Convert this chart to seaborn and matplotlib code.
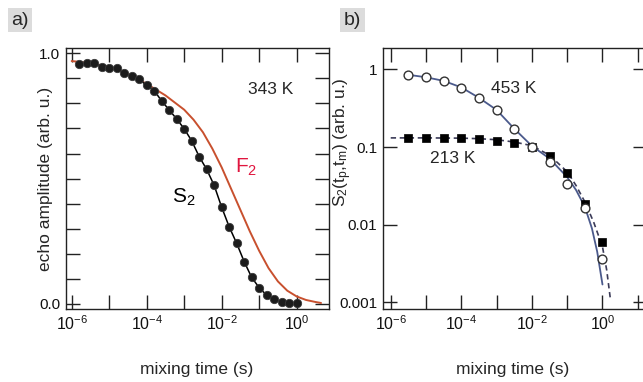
import numpy as np
import pandas as pd
import matplotlib
matplotlib.use("Agg")
import matplotlib.pyplot as plt
from matplotlib.ticker import NullLocator
import seaborn as sns

sns.set_theme(style="ticks")
plt.rcParams["font.family"] = ["Liberation Sans", "DejaVu Sans"]
plt.rcParams["mathtext.fontset"] = "custom"
plt.rcParams["mathtext.rm"] = "Liberation Sans"
plt.rcParams["mathtext.it"] = "Liberation Sans:italic"
plt.rcParams["mathtext.default"] = "regular"
plt.rcParams["axes.unicode_minus"] = False

# ── 資料 (log10 of mixing time) ──
# panel a: S2 at 343 K
s2_logt = [-5.8, -5.6, -5.4, -5.2, -5.0, -4.8, -4.6, -4.4, -4.2, -4.0,
           -3.8, -3.6, -3.4, -3.2, -3.0, -2.8, -2.6, -2.4, -2.2, -2.0,
           -1.8, -1.6, -1.4, -1.2, -1.0, -0.8, -0.6, -0.4, -0.2, 0.0]
s2_amp = [0.956, 0.960, 0.963, 0.947, 0.940, 0.940, 0.920, 0.909, 0.896, 0.872,
          0.851, 0.810, 0.774, 0.738, 0.699, 0.651, 0.588, 0.537, 0.473, 0.386,
          0.308, 0.242, 0.169, 0.106, 0.065, 0.035, 0.019, 0.009, 0.005, 0.003]
# panel a: F2 curve
f2_logt = [-6.0, -5.5, -5.0, -4.5, -4.0, -3.5, -3.0, -2.75, -2.5, -2.25, -2.0,
           -1.75, -1.5, -1.25, -1.0, -0.75, -0.5, -0.25, 0.0, 0.25, 0.5, 0.65]
f2_amp = [0.969, 0.961, 0.946, 0.918, 0.878, 0.832, 0.775, 0.735, 0.685, 0.62, 0.545,
          0.46, 0.375, 0.29, 0.212, 0.143, 0.09, 0.053, 0.030, 0.016, 0.008, 0.004]

# panel b: 453 K (open circles) and 213 K (squares)
b_logt = [-5.5, -5.0, -4.5, -4.0, -3.5, -3.0, -2.5, -2.0, -1.5, -1.0, -0.5, 0.0]
s_453 = [0.845, 0.789, 0.708, 0.582, 0.428, 0.303, 0.168, 0.100, 0.0645, 0.0333, 0.0162, 0.00358]
s_213 = [0.131, 0.131, 0.130, 0.130, 0.126, 0.120, 0.111, 0.100, 0.0762, 0.0457, 0.0184, 0.00592]
# fit curves
fit453_logt = [-5.5, -5.0, -4.5, -4.0, -3.5, -3.0, -2.5, -2.0, -1.5, -1.0, -0.75, -0.5, -0.3, -0.15, 0.0]
fit453 = [0.85, 0.79, 0.71, 0.585, 0.43, 0.30, 0.172, 0.103, 0.071, 0.041, 0.028, 0.017, 0.009, 0.0045, 0.0017]
fit213_logt = [-6.0, -5.0, -4.0, -3.5, -3.0, -2.5, -2.0, -1.5, -1.0, -0.75, -0.5, -0.25, 0.0, 0.12, 0.23]
fit213 = [0.131, 0.131, 0.130, 0.128, 0.124, 0.116, 0.104, 0.0785, 0.048, 0.032, 0.0197, 0.0108, 0.0052, 0.0026, 0.00105]

xtick_exp = [-6, -5, -4, -3, -2, -1, 0]
xtick_exp_b = [-6, -5, -4, -3, -2, -1, 0, 1]

df_s2 = pd.DataFrame({"t": np.power(10.0, s2_logt), "amp": s2_amp})
df_f2 = pd.DataFrame({"t": np.power(10.0, f2_logt), "amp": f2_amp})
df_b = pd.DataFrame({"t": np.power(10.0, b_logt), "s453": s_453, "s213": s_213})
df_f453 = pd.DataFrame({"t": np.power(10.0, fit453_logt), "v": fit453})
df_f213 = pd.DataFrame({"t": np.power(10.0, fit213_logt), "v": fit213})

FRAME = "#222222"
TICK_FS = 11
LAB_FS = 12.5


def style_axes(ax):
    for sp in ax.spines.values():
        sp.set_visible(True)
        sp.set_linewidth(1.0)
        sp.set_color(FRAME)
    ax.tick_params(which="major", direction="in", length=10, width=1.0, color=FRAME,
                   top=True, right=True, labelsize=TICK_FS, pad=4, labelcolor="#111111")
    ax.tick_params(axis="x", labelsize=11.5)


fig = plt.figure(figsize=(6.43, 3.82), dpi=100)

# ── panel a ──
ax1 = fig.add_axes([0.1026, 0.1911, 0.409, 0.6832])
sns.lineplot(data=df_f2, x="t", y="amp", ax=ax1, color="#c8502e", linewidth=1.4, zorder=2)
sns.lineplot(data=df_s2, x="t", y="amp", ax=ax1, color="black", linewidth=1.1, zorder=3)
sns.scatterplot(data=df_s2, x="t", y="amp", ax=ax1, s=36, color="#1c1c1c",
                edgecolor="#3a3a3a", linewidth=0.6, zorder=4)
ax1.set_xscale("log")
ax1.set_xlim(10 ** -6.152, 10 ** 0.861)
ax1.set_ylim(-0.02, 1.021)
ax1.set_xticks([10.0 ** e for e in xtick_exp],
               [f"$10^{{{e}}}$" if e % 2 == 0 else "" for e in xtick_exp])
ax1.xaxis.set_minor_locator(NullLocator())
yt = np.round(np.arange(0, 1.01, 0.1), 1)
ax1.set_yticks(yt, ["0.0" if v == 0 else "1.0" if v == 1 else "" for v in yt])
style_axes(ax1)
ax1.set_xlabel("mixing time (s)", fontsize=LAB_FS)
ax1.set_ylabel("echo amplitude (arb. u.)", fontsize=LAB_FS)
ax1.xaxis.set_label_coords(0.498, -0.202)
ax1.yaxis.set_label_coords(-0.049, 0.5)
ax1.text(10 ** -0.70, 0.854, "343 K", fontsize=LAB_FS, ha="center", va="center")
ax1.text(10 ** -1.64, 0.546, "F$_2$", fontsize=15, ha="left", va="center", color="#e0163f")
ax1.text(10 ** -3.32, 0.427, "S$_2$", fontsize=15, ha="left", va="center", color="black")

# ── panel b ──
ax2 = fig.add_axes([0.5952, 0.1911, 0.411, 0.6832])
sns.lineplot(data=df_f453, x="t", y="v", ax=ax2, color="#4b5a8c", linewidth=1.3, zorder=2)
sns.lineplot(data=df_f213, x="t", y="v", ax=ax2, color="#3b3b58", linewidth=1.2,
             linestyle=(0, (3.2, 2.2)), zorder=2)
sns.scatterplot(data=df_b, x="t", y="s213", ax=ax2, marker="s", s=26, color="black",
                edgecolor="black", linewidth=0.5, zorder=4)
sns.scatterplot(data=df_b, x="t", y="s453", ax=ax2, marker="o", s=40, color="white",
                edgecolor="#333333", linewidth=1.0, zorder=5)
ax2.set_xscale("log")
ax2.set_yscale("log")
ax2.set_xlim(10 ** -6.227, 10 ** 1.261)
ax2.set_ylim(10 ** -3.085, 10 ** 0.274)
ax2.set_xticks([10.0 ** e for e in xtick_exp_b],
               [f"$10^{{{e}}}$" if e % 2 == 0 and e <= 0 else "" for e in xtick_exp_b])
ax2.set_yticks([1, 0.1, 0.01, 0.001], ["1", "0.1", "0.01", "0.001"])
ax2.xaxis.set_minor_locator(NullLocator())
ax2.yaxis.set_minor_locator(NullLocator())
style_axes(ax2)
ax2.set_xlabel("mixing time (s)", fontsize=LAB_FS)
ax2.set_ylabel("S$_2$(t$_p$,t$_m$) (arb. u.)", fontsize=LAB_FS)
ax2.xaxis.set_label_coords(0.493, -0.202)
ax2.yaxis.set_label_coords(-0.109, 0.64)
ax2.text(10 ** -2.507, 0.570, "453 K", fontsize=LAB_FS, ha="center", va="center")
ax2.text(10 ** -4.25, 0.0718, "213 K", fontsize=LAB_FS, ha="center", va="center")

# ── panel labels ──
for xpos, lbl in [(0.031, "a)"), (0.548, "b)")]:
    fig.text(xpos, 0.947, lbl, fontsize=14, ha="center", va="center",
             bbox=dict(facecolor="#dcdcdc", edgecolor="none", pad=2.5))

fig.savefig("out.png", dpi=100)
